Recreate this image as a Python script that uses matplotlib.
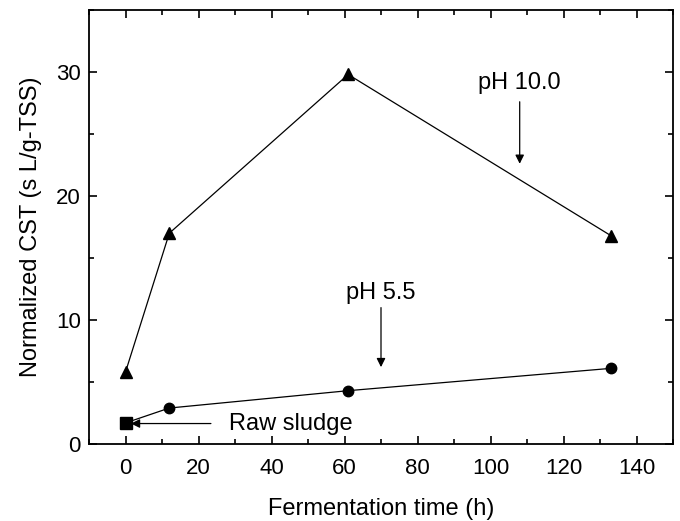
import matplotlib
matplotlib.use("Agg")
import matplotlib.pyplot as plt
from matplotlib.ticker import MultipleLocator

plt.rcParams['font.family'] = ['Liberation Sans', 'DejaVu Sans']

# pH 10.0 series
t_ph10 = [0, 12, 61, 133]
cst_ph10 = [5.8, 17.0, 29.8, 16.8]

# pH 5.5 series (starts from raw sludge)
t_ph55 = [0, 12, 61, 133]
cst_ph55 = [1.7, 2.9, 4.3, 6.1]

# raw sludge
t_raw = [0]
cst_raw = [1.7]

fig = plt.figure(figsize=(6.8, 5.21), dpi=100)
ax = fig.add_axes([89 / 680, 1 - 444 / 521, (673 - 89) / 680, (444 - 10) / 521])

ax.plot(t_ph10, cst_ph10, color='black', lw=0.9, marker='^', ms=8.5, mfc='black', mec='black')
ax.plot(t_ph55[1:], cst_ph55[1:], color='black', lw=0.9, marker='o', ms=7.5, mfc='black', mec='black')
ax.plot(t_ph55[:2], cst_ph55[:2], color='black', lw=0.9)
ax.plot(t_raw, cst_raw, color='black', ls='none', marker='s', ms=8.5)

ax.set_xlim(-10, 150)
ax.set_ylim(0, 35)
ax.xaxis.set_major_locator(MultipleLocator(20))
ax.xaxis.set_minor_locator(MultipleLocator(10))
ax.yaxis.set_major_locator(MultipleLocator(10))
ax.yaxis.set_minor_locator(MultipleLocator(5))
ax.tick_params(which='both', direction='in', top=True, right=True, width=1.2, labelsize=16)
ax.tick_params(axis='x', pad=10)
ax.tick_params(axis='y', pad=6)
ax.tick_params(which='major', length=6)
ax.tick_params(which='minor', length=3.5)
for s in ax.spines.values():
    s.set_linewidth(1.3)

ax.set_xlabel('Fermentation time (h)', fontsize=17, labelpad=14)
ax.set_ylabel('Normalized CST (s L/g-TSS)', fontsize=17, labelpad=10)

arrow = dict(arrowstyle='-|>', color='black', lw=0.9, mutation_scale=13, shrinkA=0, shrinkB=0)
ax.text(108, 29.1, 'pH 10.0', fontsize=17, ha='center', va='center')
ax.annotate('', xy=(108, 22.6), xytext=(108, 27.6), arrowprops=arrow)
ax.text(70, 12.2, 'pH 5.5', fontsize=17, ha='center', va='center')
ax.annotate('', xy=(70, 6.2), xytext=(70, 11.0), arrowprops=arrow)
ax.text(28.3, 1.65, 'Raw sludge', fontsize=17, ha='left', va='center')
ax.annotate('', xy=(1.5, 1.65), xytext=(23.4, 1.65), arrowprops=arrow)

fig.savefig('out.png', dpi=100)
